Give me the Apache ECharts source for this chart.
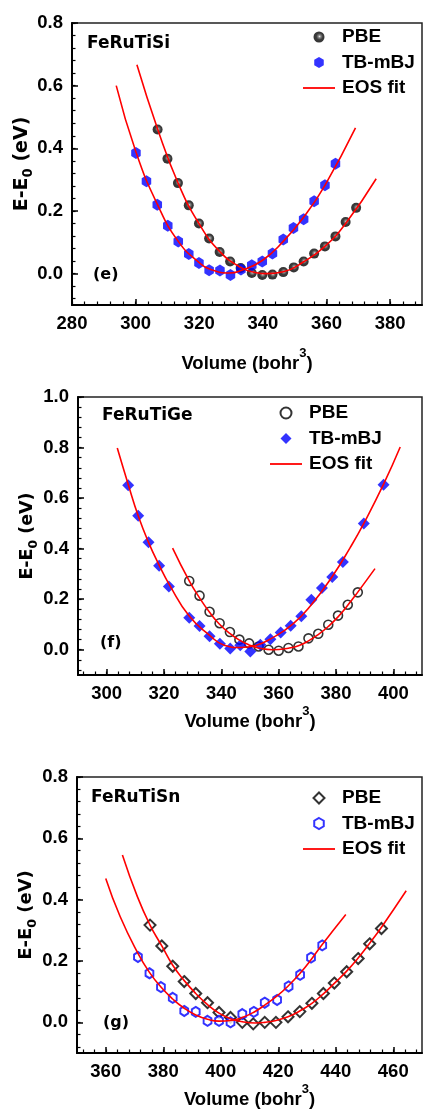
<!DOCTYPE html>
<html>
<head>
<meta charset="utf-8">
<script src="https://cdn.jsdelivr.net/npm/echarts@6.0.0/dist/echarts.min.js"></script>
<style>
  html, body { margin: 0; padding: 0; background: #fff; }
  #main { width: 423px; height: 1110px; }
</style>
</head>
<body>
<div id="main"></div>
<script>
// (e) FeRuTiSi
var pbeE = [[306.9,0.460],[310.0,0.367],[313.3,0.289],[316.7,0.218],[319.9,0.160],[323.1,0.112],[326.4,0.069],[329.7,0.039],[333.0,0.018],[336.5,0.002],[339.8,-0.004],[343.0,-0.003],[346.4,0.005],[349.7,0.020],[352.8,0.039],[356.1,0.064],[359.5,0.087],[362.8,0.119],[366.0,0.165],[369.3,0.210]];
var mbjE = [[300.1,0.385],[303.4,0.295],[306.8,0.220],[310.1,0.153],[313.4,0.103],[316.7,0.063],[319.9,0.034],[323.1,0.011],[326.5,0.010],[329.8,-0.004],[333.1,0.013],[336.5,0.027],[339.8,0.039],[343.0,0.064],[346.4,0.109],[349.6,0.146],[352.8,0.174],[356.1,0.231],[359.5,0.282],[362.8,0.351]];
var pbeFitE = [[300.4,0.667],[306.9,0.462],[313.3,0.290],[319.9,0.160],[326.4,0.071],[333.0,0.020],[338.0,0.003],[341.0,0.000],[346.4,0.006],[352.8,0.038],[359.5,0.087],[366.0,0.160],[375.6,0.303]];
var mbjFitE = [[293.9,0.600],[300.1,0.388],[306.8,0.222],[313.4,0.103],[319.9,0.036],[324.0,0.012],[329.5,0.002],[333.1,0.010],[339.8,0.042],[346.4,0.103],[352.8,0.180],[359.5,0.282],[369.1,0.465]];

// (f) FeRuTiGe
var pbeF = [[328.8,0.272],[332.4,0.214],[335.9,0.150],[339.4,0.105],[343.0,0.070],[346.3,0.040],[349.7,0.025],[353.0,0.013],[356.5,0.000],[360.0,-0.004],[363.4,0.007],[366.9,0.013],[370.4,0.045],[373.8,0.063],[377.3,0.099],[380.7,0.135],[384.1,0.178],[387.6,0.227]];
var mbjF = [[307.5,0.651],[311.0,0.530],[314.6,0.425],[318.3,0.332],[321.7,0.250],[328.8,0.127],[332.4,0.094],[335.9,0.053],[339.5,0.024],[343.1,0.005],[346.6,0.018],[350.1,-0.007],[353.6,0.020],[357.1,0.041],[360.7,0.068],[364.2,0.095],[367.9,0.132],[371.4,0.198],[375.1,0.244],[378.7,0.288],[382.4,0.347],[389.7,0.499],[396.6,0.653]];
var pbeFitF = [[323.0,0.402],[328.8,0.272],[332.4,0.205],[335.9,0.148],[339.2,0.103],[342.8,0.066],[346.3,0.038],[349.5,0.020],[353.0,0.007],[358.0,0.000],[363.4,0.006],[366.9,0.016],[370.4,0.035],[373.8,0.060],[377.3,0.092],[380.7,0.130],[384.1,0.176],[387.6,0.228],[393.6,0.321]];
var mbjFitF = [[303.7,0.798],[307.5,0.655],[311.0,0.530],[314.6,0.425],[318.3,0.335],[322.0,0.255],[328.8,0.133],[335.8,0.058],[341.0,0.018],[346.5,0.009],[352.0,0.017],[357.5,0.045],[364.8,0.100],[371.4,0.178],[378.7,0.290],[385.0,0.405],[389.7,0.500],[396.6,0.655],[402.4,0.802]];

// (g) FeRuTiSn
var pbeG = [[375.4,0.317],[379.5,0.249],[383.3,0.183],[387.3,0.133],[391.3,0.094],[395.4,0.064],[399.4,0.032],[403.4,0.016],[407.5,0.000],[411.3,-0.005],[415.3,0.000],[419.2,0.000],[423.4,0.018],[427.5,0.035],[431.7,0.062],[435.7,0.094],[439.5,0.128],[443.8,0.165],[447.8,0.208],[451.8,0.256],[455.9,0.306]];
var mbjG = [[371.2,0.213],[375.2,0.160],[379.2,0.115],[383.3,0.080],[387.3,0.037],[391.3,0.034],[395.4,0.005],[399.4,0.005],[403.4,0.000],[407.5,0.027],[411.5,0.034],[415.3,0.064],[419.6,0.073],[423.6,0.117],[427.6,0.155],[431.4,0.211],[435.3,0.251]];
var pbeFitG = [[365.8,0.546],[371.0,0.410],[375.4,0.317],[379.5,0.249],[383.3,0.186],[387.3,0.136],[391.3,0.094],[395.4,0.058],[399.4,0.030],[403.4,0.012],[407.5,0.002],[412.0,-0.002],[415.3,0.000],[419.2,0.006],[423.4,0.018],[427.5,0.037],[431.7,0.062],[435.7,0.093],[439.5,0.127],[443.8,0.167],[447.8,0.210],[451.8,0.258],[455.9,0.310],[464.5,0.429]];
var mbjFitG = [[360.0,0.469],[365.0,0.345],[371.2,0.225],[375.2,0.163],[379.2,0.115],[383.3,0.076],[387.3,0.046],[391.3,0.024],[395.4,0.010],[399.4,0.004],[403.4,0.006],[407.5,0.016],[411.5,0.033],[415.3,0.056],[419.6,0.086],[423.6,0.120],[427.6,0.160],[431.4,0.204],[435.3,0.254],[443.5,0.352]];

// tick labels
var xTicksE = [280, 300, 320, 340, 360, 380];
var xTicksF = [300, 320, 340, 360, 380, 400];
var xTicksG = [360, 380, 400, 420, 440, 460];
var yTicksE = [0, 0.2, 0.4, 0.6, 0.8];
var yTicksF = [0, 0.2, 0.4, 0.6, 0.8, 1.0];
var yTicksG = [0, 0.2, 0.4, 0.6, 0.8];

var BLUE = '#0000ff';
var RED = '#ff0000';
var ARIAL = 'Liberation Sans, Arial, sans-serif';
var DEJAVU = 'DejaVu Sans, sans-serif';

function steps(a, b, s) {
  var out = [];
  for (var v = a; v <= b + 1e-9; v += s) out.push(Math.round(v * 1000) / 1000);
  return out;
}

var hexagon = 'path://M0,-1 L0.866,-0.5 L0.866,0.5 L0,1 L-0.866,0.5 L-0.866,-0.5 Z';
var diamond = 'path://M0,-1 L1,0 L0,1 L-1,0 Z';
var lineIcon = 'path://M0,0 L32,0 L32,1.8 L0,1.8 Z';
var sphere = {
  type: 'radial', x: 0.55, y: 0.45, r: 0.55,
  colorStops: [{offset: 0, color: '#e8e8e8'}, {offset: 0.22, color: '#6a6a6a'}, {offset: 0.55, color: '#0a0a0a'}, {offset: 1, color: '#000'}]
};

var grids = [
  {left: 72, top: 23, width: 350, height: 282},
  {left: 78, top: 397, width: 344, height: 278},
  {left: 77, top: 777, width: 345, height: 281}
];

var panels = [
  {xmin: 280, xmax: 390, xMinor: steps(280, 390, 4), ymax: 0.8, xt: xTicksE, yt: yTicksE, xGap: 42, yGap: 37, ySize: 19},
  {xmin: 290, xmax: 410, xMinor: steps(292, 410, 4), ymax: 1.0, xt: xTicksF, yt: yTicksF, xGap: 30, yGap: 38, ySize: 17.5},
  {xmin: 350, xmax: 470, xMinor: steps(352, 470, 4), ymax: 0.8, xt: xTicksG, yt: yTicksG, xGap: 30, yGap: 38, ySize: 18}
];

var xAxes = [], yAxes = [];
panels.forEach(function (p, i) {
  var labelStyle = {color: '#000', fontFamily: ARIAL, fontWeight: 'bold', fontSize: 18.5};
  xAxes.push({
    type: 'value', gridIndex: i, min: p.xmin, max: p.xmax, position: 'bottom',
    name: '{a|Volume (bohr}{s|3}{a|)}', nameLocation: 'middle', nameGap: p.xGap,
    nameTextStyle: {rich: {
      a: {fontFamily: ARIAL, fontWeight: 'bold', fontSize: 18.5, color: '#000', lineHeight: 26, verticalAlign: 'bottom'},
      s: {fontFamily: ARIAL, fontWeight: 'bold', fontSize: 13, color: '#000', lineHeight: 14, verticalAlign: 'top'}
    }},
    axisLine: {show: true, onZero: false, lineStyle: {color: '#000', width: 2}},
    axisTick: {show: true, inside: true, length: 6, customValues: p.xt, lineStyle: {color: '#000', width: 1.5}},
    axisLabel: Object.assign({customValues: p.xt, margin: 9}, labelStyle),
    splitLine: {show: false}
  });
  xAxes.push({
    type: 'value', gridIndex: i, min: p.xmin, max: p.xmax, position: 'bottom',
    axisLine: {show: false, onZero: false},
    axisTick: {show: true, inside: true, length: 3.5, customValues: p.xMinor, lineStyle: {color: '#000', width: 1.2}},
    axisLabel: {show: false}, splitLine: {show: false}
  });
  yAxes.push({
    type: 'value', gridIndex: i, min: -0.1, max: p.ymax, position: 'left',
    name: '{a|E-E}{b|0}{a| (eV)}', nameLocation: 'middle', nameGap: p.yGap, nameRotate: 90,
    nameMoveOverlap: false,
    nameTextStyle: {rich: {
      a: {fontFamily: DEJAVU, fontWeight: 'bold', fontSize: p.ySize, color: '#000', lineHeight: 22, verticalAlign: 'top'},
      b: {fontFamily: DEJAVU, fontWeight: 'bold', fontSize: p.ySize * 0.7, color: '#000', lineHeight: 14, verticalAlign: 'bottom'}
    }},
    axisLine: {show: true, onZero: false, lineStyle: {color: '#000', width: 2}},
    axisTick: {show: true, inside: true, length: 6, customValues: p.yt, lineStyle: {color: '#000', width: 1.5}},
    axisLabel: Object.assign({customValues: p.yt, margin: 9, formatter: function (v) { return v.toFixed(1); }}, labelStyle),
    splitLine: {show: false}
  });
  yAxes.push({
    type: 'value', gridIndex: i, min: -0.1, max: p.ymax, position: 'left',
    axisLine: {show: false, onZero: false},
    axisTick: {show: true, inside: true, length: 3.5, customValues: steps(-0.08, p.ymax, 0.04), lineStyle: {color: '#000', width: 1.2}},
    axisLabel: {show: false}, splitLine: {show: false}
  });
});

function scatter(name, i, data, symbol, size, style) {
  return {name: name, type: 'scatter', xAxisIndex: i * 2, yAxisIndex: i * 2, data: data,
    symbol: symbol, symbolSize: size, symbolKeepAspect: true, itemStyle: style, z: 3};
}
function fit(name, i, data) {
  return {name: name, type: 'line', xAxisIndex: i * 2, yAxisIndex: i * 2, data: data, smooth: 0.5,
    symbol: 'none', showSymbol: false, lineStyle: {color: RED, width: 1.6}, itemStyle: {color: RED}, z: 5};
}

var series = [
  scatter('PBE_e', 0, pbeE, 'circle', 10, {color: sphere}),
  scatter('TB-mBJ_e', 0, mbjE, hexagon, [11, 12], {color: BLUE}),
  fit('EOS fit_e', 0, pbeFitE),
  fit('EOS fit_e', 0, mbjFitE),
  scatter('PBE_f', 1, pbeF, 'circle', 9, {color: '#fff', borderColor: '#000', borderWidth: 1.6}),
  scatter('TB-mBJ_f', 1, mbjF, diamond, 12, {color: BLUE}),
  fit('EOS fit_f', 1, pbeFitF),
  fit('EOS fit_f', 1, mbjFitF),
  scatter('PBE_g', 2, pbeG, diamond, 11, {color: '#fff', borderColor: '#000', borderWidth: 2}),
  scatter('TB-mBJ_g', 2, mbjG, hexagon, [9, 10], {color: '#fff', borderColor: BLUE, borderWidth: 2}),
  fit('EOS fit_g', 2, pbeFitG),
  fit('EOS fit_g', 2, mbjFitG)
];

// legend icons follow the marker of each panel
function legend(tag, left, top, icons) {
  return {
    data: [
      {name: 'PBE_' + tag, icon: icons[0]},
      {name: 'TB-mBJ_' + tag, icon: icons[1]},
      {name: 'EOS fit_' + tag, icon: lineIcon}
    ],
    formatter: function (n) { return n.split('_')[0]; },
    orient: 'vertical', left: left, top: top, padding: 0, symbolKeepAspect: true,
    itemWidth: 32, itemHeight: 11, itemGap: 5.5, selectedMode: false,
    textStyle: {color: '#000', fontFamily: ARIAL, fontWeight: 'bold', fontSize: 19, lineHeight: 20, padding: [0, 0, 0, 2]}
  };
}

function label(text, left, top, size) {
  return {text: text, left: left, top: top, padding: 0,
    textStyle: {color: '#000', fontFamily: DEJAVU, fontWeight: 'bold', fontSize: size, lineHeight: 20}};
}

var myChart = echarts.init(document.getElementById('main'));
var option = {
  animation: false,
  backgroundColor: '#fff',
  title: [
    label('FeRuTiSi', 87, 34, 17), label('(e)', 93, 265, 16),
    label('FeRuTiGe', 102, 406, 17), label('(f)', 100, 633, 16),
    label('FeRuTiSn', 91, 788, 17), label('(g)', 103, 1013, 16)
  ],
  legend: [
    legend('e', 303, 27, ['circle', hexagon]),
    legend('f', 270, 403, ['circle', diamond]),
    legend('g', 303, 788, [diamond, hexagon])
  ],
  grid: grids.map(function (g) {
    return Object.assign({show: true, borderColor: '#222', borderWidth: 1.5, containLabel: false}, g);
  }),
  xAxis: xAxes,
  yAxis: yAxes,
  series: series
};
myChart.setOption(option);
</script>
</body>
</html>
